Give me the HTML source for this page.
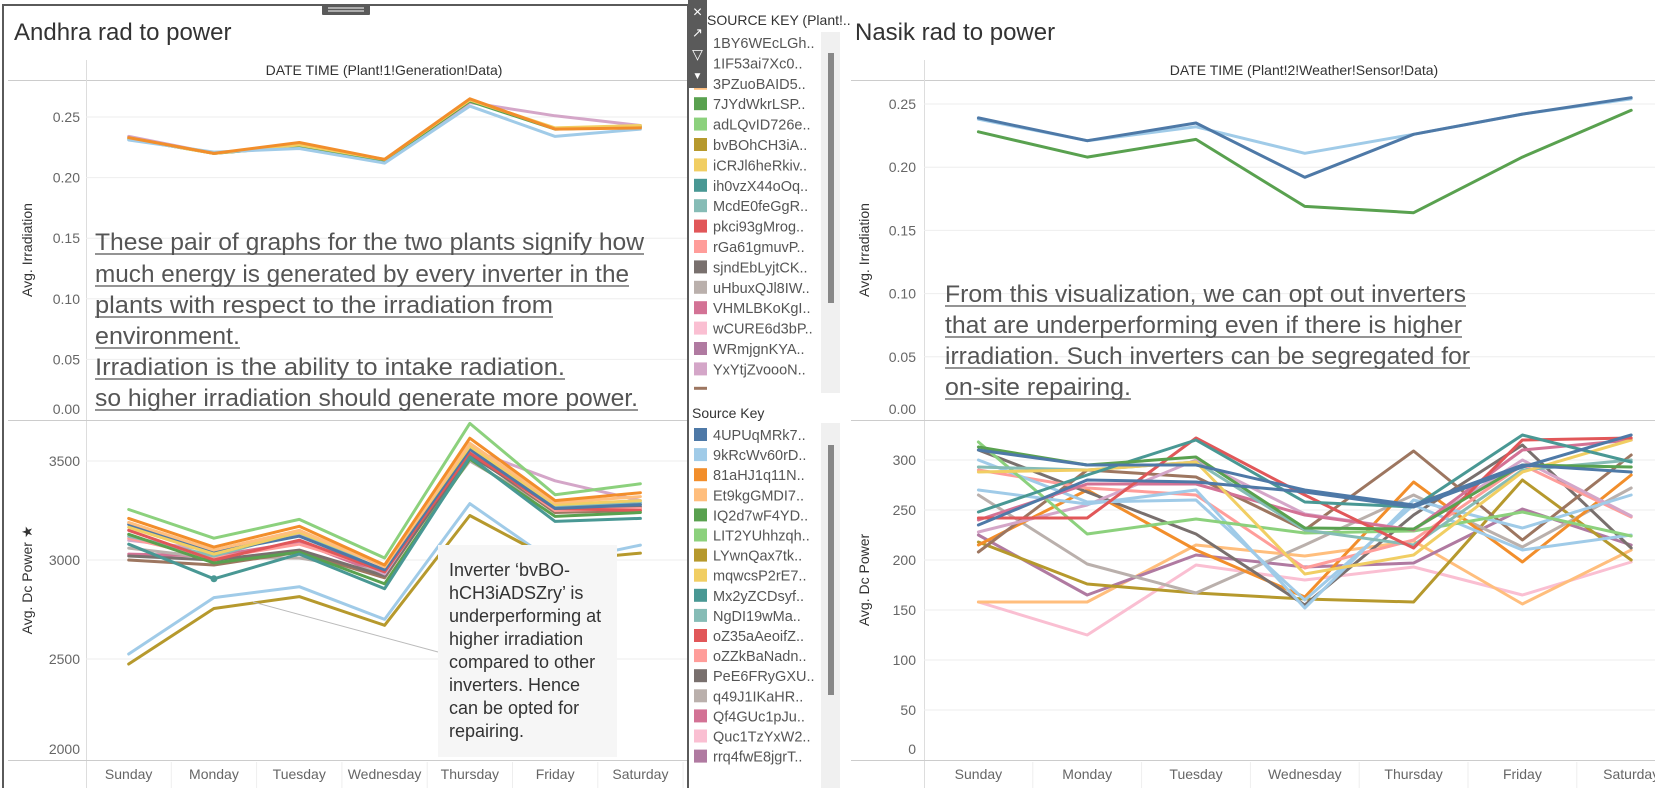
<!DOCTYPE html>
<html><head><meta charset="utf-8">
<style>
html,body{margin:0;padding:0;background:#fff;}
svg{display:block;font-family:"Liberation Sans",sans-serif;}
</style></head>
<body>
<svg id="c" width="1655" height="788" viewBox="0 0 1655 788" xmlns="http://www.w3.org/2000/svg">
<g id="static"></g>
</svg>
<script>
const days = ["Sunday","Monday","Tuesday","Wednesday","Thursday","Friday","Saturday"];
const irrTicks = [0.00,0.05,0.10,0.15,0.20,0.25];
const andhraPowerTicks = [2000,2500,3000,3500];
const nasikPowerTicks = [0,50,100,150,200,250,300];

const andhraIrr = [
 [0.234,0.220,0.226,0.214,0.262,0.251,0.243],
 [0.232,0.220,0.226,0.214,0.263,0.240,0.242],
 [0.232,0.220,0.227,0.215,0.264,0.241,0.243],
 [0.231,0.221,0.224,0.212,0.259,0.234,0.240],
 [0.233,0.220,0.229,0.215,0.265,0.240,0.241]
];
const andhraIrrColors = ["#d4a6c8","#59a14f","#f1ce63","#a0cbe8","#f28e2b"];

const andhraPower = [
 [3030,3020,3090,2925,3545,3270,3260],
 [3060,3010,3010,2940,3500,3250,3280],
 [3000,2975,3040,2910,3540,3240,3250],
 [3020,3000,3050,2920,3530,3260,3270],
 [3100,3050,3130,2930,3560,3400,3300],
 [3110,3010,3080,2950,3550,3250,3260],
 [3120,3020,3140,2945,3580,3270,3290],
 [3150,3000,3100,2940,3540,3260,3250],
 [3180,3040,3120,2950,3560,3260,3280],
 [3165,3030,3140,2970,3575,3280,3300],
 [3190,3050,3150,2965,3590,3290,3320],
 [3130,2985,3040,2880,3510,3220,3240],
 [3080,2905,3030,2855,3520,3195,3210],
 [3210,3065,3170,2975,3615,3300,3340],
 [3255,3110,3205,3010,3690,3330,3385],
 [2525,2810,2865,2700,3285,2985,3075],
 [2475,2755,2815,2670,3225,2995,3035]
];
const andhraPowerColors = ["#d37295","#bab0ac","#9d7660","#79706e","#d4a6c8","#ff9d9a","#86bcb6","#e15759","#4e79a7","#f1ce63","#ffbe7d","#59a14f","#499894","#f28e2b","#8cd17d","#a0cbe8","#b6992d"];

const nasikIrr = [
 [0.238,0.221,0.232,0.211,0.226,0.242,0.254],
 [0.239,0.221,0.235,0.192,0.226,0.242,0.255],
 [0.228,0.208,0.222,0.169,0.164,0.208,0.245]
];
const nasikIrrColors = ["#a0cbe8","#4e79a7","#59a14f"];

const nasikPower = [
 [158,125,195,180,193,165,198],
 [158,158,215,204,219,156,210],
 [225,165,205,193,197,251,215],
 [218,176,167,161,158,280,200],
 [265,196,167,215,265,213,272],
 [215,270,210,163,278,198,285],
 [310,268,226,155,245,315,212],
 [208,290,283,230,309,220,305],
 [290,272,265,192,220,295,243],
 [228,255,300,246,230,300,244],
 [270,256,270,152,260,232,265],
 [300,258,260,160,255,210,225],
 [318,226,241,227,229,248,224],
 [240,276,276,245,230,310,320],
 [293,290,298,230,215,290,300],
 [288,290,298,186,205,288,320],
 [242,242,322,265,212,320,322],
 [248,285,320,258,253,325,298],
 [313,295,303,232,231,295,293],
 [310,295,295,270,255,295,288],
 [235,280,278,268,253,293,325]
];
const nasikPowerColors = ["#fabfd2","#ffbe7d","#b07aa1","#b6992d","#bab0ac","#f28e2b","#79706e","#9d7660","#ff9d9a","#d4a6c8","#a0cbe8","#a0cbe8","#8cd17d","#d37295","#86bcb6","#f1ce63","#e15759","#499894","#59a14f","#4e79a7","#4e79a7"];

const legend1Names = ["1BY6WEcLGh..","1IF53ai7Xc0..","3PZuoBAID5..","7JYdWkrLSP..","adLQvID726e..","bvBOhCH3iA..","iCRJl6heRkiv..","ih0vzX44oOq..","McdE0feGgR..","pkci93gMrog..","rGa61gmuvP..","sjndEbLyjtCK..","uHbuxQJl8IW..","VHMLBKoKgI..","wCURE6d3bP..","WRmjgnKYA..","YxYtjZvoooN.."];
const legend1Colors = ["#a0cbe8","#f28e2b","#ffbe7d","#59a14f","#8cd17d","#b6992d","#f1ce63","#499894","#86bcb6","#e15759","#ff9d9a","#79706e","#bab0ac","#d37295","#fabfd2","#b07aa1","#d4a6c8"];
const legend2Names = ["4UPUqMRk7..","9kRcWv60rD..","81aHJ1q11N..","Et9kgGMDI7..","IQ2d7wF4YD..","LIT2YUhhzqh..","LYwnQax7tk..","mqwcsP2rE7..","Mx2yZCDsyf..","NgDI19wMa..","oZ35aAeoifZ..","oZZkBaNadn..","PeE6FRyGXU..","q49J1IKaHR..","Qf4GUc1pJu..","Quc1TzYxW2..","rrq4fwE8jgrT.."];
const legend2Colors = ["#4e79a7","#a0cbe8","#f28e2b","#ffbe7d","#59a14f","#8cd17d","#b6992d","#f1ce63","#499894","#86bcb6","#e15759","#ff9d9a","#79706e","#bab0ac","#d37295","#fabfd2","#b07aa1"];

const NS = "http://www.w3.org/2000/svg";
const svg = document.getElementById('c');
function mk(tag, attrs, parent, text){
  const e = document.createElementNS(NS, tag);
  for (const k in attrs) e.setAttribute(k, attrs[k]);
  if (text !== undefined) e.textContent = text;
  (parent || svg).appendChild(e);
  return e;
}

const lx = i => 86 + 85.3*(i+0.5);
const lyTop = v => 420 - v*1212;
const lyBot = v => 758 - (v-2000)*0.198;
const rx = i => 924 + 108.8*(i+0.5);
const ryTop = v => 420 - v*1264;
const ryBot = v => 760 - v;

const lp = mk('rect',{x:3,y:5,width:685,height:790,fill:'#fff',stroke:'#5a5a5a','stroke-width':2});


const handle = mk('rect',{x:322,y:4,width:48,height:11,fill:'#5a5a5a',rx:1});


mk('line',{x1:328,y1:8,x2:364,y2:8,stroke:'#fff','stroke-width':1});
mk('line',{x1:328,y1:11,x2:364,y2:11,stroke:'#fff','stroke-width':1});

function panel(opts){
  const g = mk('g',{});
  
  
  const t = mk('text',{x:opts.titleX,y:40,'font-size':24,fill:'#333'},g,opts.title);
  
  
  const h = mk('text',{x:opts.headerX,y:75,'font-size':14,fill:'#333','text-anchor':'middle'},g,opts.header);
  
  
  mk('line',{x1:opts.left,y1:80.5,x2:opts.right,y2:80.5,stroke:'#ccc'},g);
  mk('line',{x1:opts.axisX+0.5,y1:60,x2:opts.axisX+0.5,y2:788,stroke:'#ddd'},g);
  mk('line',{x1:opts.left,y1:420.5,x2:opts.right,y2:420.5,stroke:'#ccc'},g);
  mk('line',{x1:opts.left,y1:760.5,x2:opts.right,y2:760.5,stroke:'#ccc'},g);
  irrTicks.forEach(v=>{
    const y = opts.yTop(v);
    if (v>0) mk('line',{x1:opts.axisX,y1:y,x2:opts.right,y2:y,stroke:'#eee'},g);
    const ty = v===0 ? 414 : y+5;
    const tt = mk('text',{x:opts.tickX,y:ty,'font-size':14,fill:'#666','text-anchor':'end'},g,v.toFixed(2));
    
    
  });
  opts.botTicks.forEach(v=>{
    const y = opts.yBot(v);
    if (y<755) mk('line',{x1:opts.axisX,y1:y,x2:opts.right,y2:y,stroke:'#eee'},g);
    const ty = Math.min(y+5, 754);
    const tt = mk('text',{x:opts.tickX,y:ty,'font-size':14,fill:'#666','text-anchor':'end'},g,String(v));
    
    
  });
  days.forEach((d,i)=>{
    const x = opts.xf(i);
    const tl = mk('text',{x:x,y:779,'font-size':14,fill:'#666','text-anchor':'middle'},g,d);
    
    
    const bx = opts.xf(i)+opts.band/2;
    mk('line',{x1:bx,y1:762,x2:bx,y2:788,stroke:'#eee'},g);
  });
  const a1 = mk('text',{x:0,y:0,'font-size':14,fill:'#333','text-anchor':'middle',transform:`translate(${opts.ytX},250) rotate(-90)`},g,'Avg. Irradiation');
  
  
  const a2 = mk('text',{x:0,y:0,'font-size':14,fill:'#333','text-anchor':'middle',transform:`translate(${opts.ytX},580) rotate(-90)`},g,opts.powerTitle);
  
  
  return g;
}

function drawLines(g, data, colors, xf, yf, name){
  data.forEach((s,si)=>{
    const pts = s.map((v,i)=>xf(i).toFixed(1)+','+yf(v).toFixed(1)).join(' ');
    const pl = mk('polyline',{points:pts,fill:'none',stroke:colors[si],'stroke-width':3,'stroke-linejoin':'round','stroke-linecap':'round'},g);
    
    
  });
}

const L = panel({name:'andhra-chart',title:'Andhra rad to power',titleX:14,header:'DATE TIME (Plant!1!Generation!Data)',headerX:384,
  left:8,right:687,axisX:86,tickX:80,yTop:lyTop,yBot:lyBot,botTicks:andhraPowerTicks,xf:lx,band:85.3,ytX:32,powerTitle:'Avg. Dc Power \u2605'});
drawLines(L, andhraIrr, andhraIrrColors, lx, lyTop, 'andhra-irradiation');
drawLines(L, andhraPower, andhraPowerColors, lx, lyBot, 'andhra-power');
mk('circle',{cx:lx(1),cy:lyBot(2905),r:3.5,fill:'#499894'},L);

const R = panel({name:'nasik-chart',title:'Nasik rad to power',titleX:855,header:'DATE TIME (Plant!2!Weather!Sensor!Data)',headerX:1304,
  left:851,right:1655,axisX:924,tickX:916,yTop:ryTop,yBot:ryBot,botTicks:nasikPowerTicks,xf:rx,band:108.8,ytX:869,powerTitle:'Avg. Dc Power'});
drawLines(R, nasikIrr, nasikIrrColors, rx, ryTop, 'nasik-irradiation');
drawLines(R, nasikPower, nasikPowerColors, rx, ryBot, 'nasik-power');

function annot(lines, x, ys, widths, name){
  const g = mk('g',{});
  
  
  lines.forEach((t,i)=>{
    mk('text',{x:x,y:ys[i],'font-size':24,fill:'#555',textLength:widths[i],lengthAdjust:'spacingAndGlyphs'},g,t);
    mk('line',{x1:x,y1:ys[i]+4,x2:x+widths[i],y2:ys[i]+4,stroke:'#555','stroke-width':1.3},g);
  });
}
annot(["These pair of graphs for the two plants signify how","much energy is generated by every inverter in the","plants with respect to the irradiation from","environment.","Irradiation is the ability to intake radiation.","so higher irradiation should generate more power."],
  95,[250,282,313,344,375,406],[549,534,458,145,470,543],'andhra-annotation');
annot(["From this visualization, we can opt out inverters","that are underperforming even if there is higher","irradiation. Such inverters can be segregated for","on-site repairing."],
  945,[302,333,364,395],[521,517,525,186],'nasik-annotation');

mk('line',{x1:253,y1:602,x2:438,y2:652,stroke:'#bbb','stroke-width':1});
const tip = mk('g',{});


mk('rect',{x:438,y:545,width:179,height:212,fill:'#f6f6f6'},tip);
["Inverter \u2018bvBO-","hCH3iADSZry\u2019 is","underperforming at","higher irradiation","compared to other","inverters. Hence","can be opted for","repairing."].forEach((t,i)=>{
  mk('text',{x:449,y:576+i*23,'font-size':18,fill:'#333'},tip,t);
});

const tb = mk('g',{});


mk('rect',{x:688,y:0,width:19,height:88,fill:'#5a5a5a'},tb);
const tClose = mk('text',{x:697.5,y:17,'font-size':16,fill:'#fff','text-anchor':'middle'},tb,'\u00d7');


const tPop = mk('text',{x:697.5,y:37,'font-size':13,fill:'#fff','text-anchor':'middle'},tb,'\u2197');


const tFil = mk('text',{x:697.5,y:59,'font-size':14,fill:'#fff','text-anchor':'middle'},tb,'\u25bd');


const tMore = mk('text',{x:697.5,y:79,'font-size':10,fill:'#fff','text-anchor':'middle'},tb,'\u25bc');



function legend(title, titleY, names, colors, y0, step, trackY, trackH, thumbY, thumbH, name){
  const g = mk('g',{});
  
  
  mk('rect',{x:821,y:trackY,width:19,height:trackH,fill:'#f0f0f0'},g);
  const th = mk('rect',{x:828,y:thumbY,width:6,height:thumbH,fill:'#888'},g);
  
  
  const tt = mk('text',{x:title.startsWith('SOURCE')?707:692,y:titleY,'font-size':14,fill:'#333'},g,title);
  
  
  names.forEach((n,i)=>{
    const y = y0+i*step;
    const it = mk('g',{},g);
    
    
    mk('rect',{x:694,y:y-7,width:13,height:13,fill:colors[i]},it);
    mk('text',{x:713,y:y+5,'font-size':14.5,fill:'#555'},it,n);
  });
}
legend('SOURCE KEY (Plant!..',25,legend1Names,legend1Colors,43,20.4,32,361,53,250,'legend-plant1');
mk('rect',{x:694,y:43+17*20.4-3,width:13,height:3,fill:'#9d7660'});
legend('Source Key',418,legend2Names,legend2Colors,435,20.1,423,365,445,250,'legend-plant2');
svg.appendChild(tb);
</script>
</body></html>
